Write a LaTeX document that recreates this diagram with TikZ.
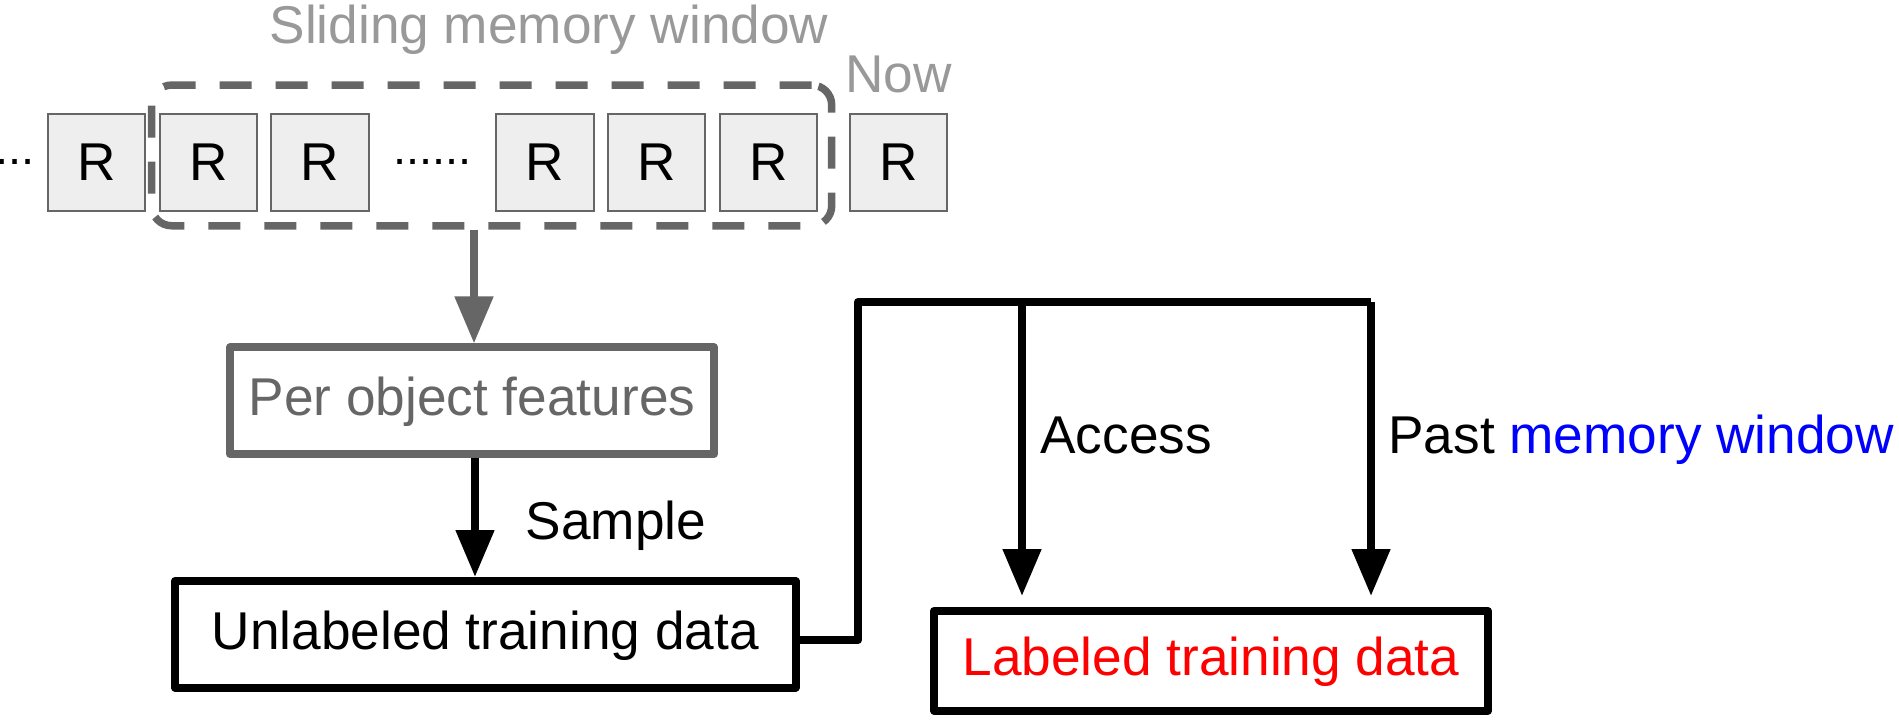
\documentclass[tikz,border=0pt]{standalone}
\usepackage{fontspec}
\setmainfont{Liberation Sans}
\usetikzlibrary{arrows.meta}
\definecolor{dgray}{HTML}{666666}
\definecolor{lgray}{HTML}{999999}
\definecolor{rfill}{HTML}{EEEEEE}
\definecolor{pblue}{HTML}{0000FF}
\definecolor{pred}{HTML}{FF0000}

\begin{document}
\begin{tikzpicture}[x=0.5pt,y=-0.5pt,
  lbl/.style={font=\fontsize{26.6}{31}\selectfont, inner sep=0pt},
  dots/.style={font=\fontsize{23.5}{28}\selectfont, inner sep=0pt, anchor=base},
  rbox/.style={draw=dgray, fill=rfill, line width=1pt, minimum width=48.75pt,
    minimum height=48.75pt, inner sep=0pt, font=\fontsize{26.6}{31}\selectfont},
  procbox/.style={draw, line width=4pt, line join=round, inner sep=0pt,
    font=\fontsize{26.6}{31}\selectfont, text height=19.5pt, text depth=4.5pt},
  windowbox/.style={draw=dgray, line width=3.75pt, rounded corners=10pt,
    dash pattern=on 16pt off 12pt, minimum width=340pt, minimum height=70.35pt},
  flow/.style={line width=4pt, line join=round, -{Triangle[length=23.5pt,width=18.5pt]}},
]
\useasboundingbox (0,0) rectangle (1899,719);

% sliding window of records
\node[windowbox] (window) at (491.7,155.4) {};
\foreach \i/\x in {0/96.7,1/208.4,2/320.1,3/545,4/656.7,5/768.4}
  \node[rbox] (r\i) at (\x,162.3) {R};
\node[rbox] (rnow) at (898.5,162.3) {R};
\node[dots] (dl) at (15,164) {...};
\node[dots] (dm) at (432.5,164) {......};
\node[lbl, text=lgray, anchor=base] (title) at (549,43) {Sliding memory window};
\node[lbl, text=lgray, anchor=base] (now) at (898.5,92.5) {Now};

% processing boxes
\node[procbox, draw=dgray, text=dgray, minimum width=242pt, minimum height=53.25pt]
  (pof) at (472,400.7) {Per object features};
\node[procbox, minimum width=310.25pt, minimum height=53.25pt]
  (ub) at (485.25,634.25) {Unlabeled training data};
\node[procbox, text=pred, minimum width=277pt, minimum height=49.75pt]
  (lb) at (1211,660.75) {Labeled training data};

% connectors
\draw[flow, dgray] ([xshift=1pt]pof.north |- window.south) -- ([xshift=1pt]pof.north);
\draw[flow] ([xshift=1.5pt]pof.south) -- ([xshift=1.5pt]pof.south |- ub.north);
\node[lbl, anchor=base] (samp) at (616,539) {Sample};

\coordinate (jl) at (858,302);
\coordinate (jm) at (1022,302);
\coordinate (jr) at (1371,302);
\draw[line width=4pt, line join=round] ([yshift=-2.9pt]ub.east) -| (jl) -- (jr);
\draw[flow] (jm) -- ([yshift=5.5pt]jm |- lb.north);
\draw[flow] (jr) -- ([yshift=5.5pt]jr |- lb.north);
\node[lbl, anchor=base west] (acc) at (1040,453.3) {Access};
\node[lbl, anchor=base west] (past) at (1388,453.3) {Past \textcolor{pblue}{memory window}};
\end{tikzpicture}
\end{document}
